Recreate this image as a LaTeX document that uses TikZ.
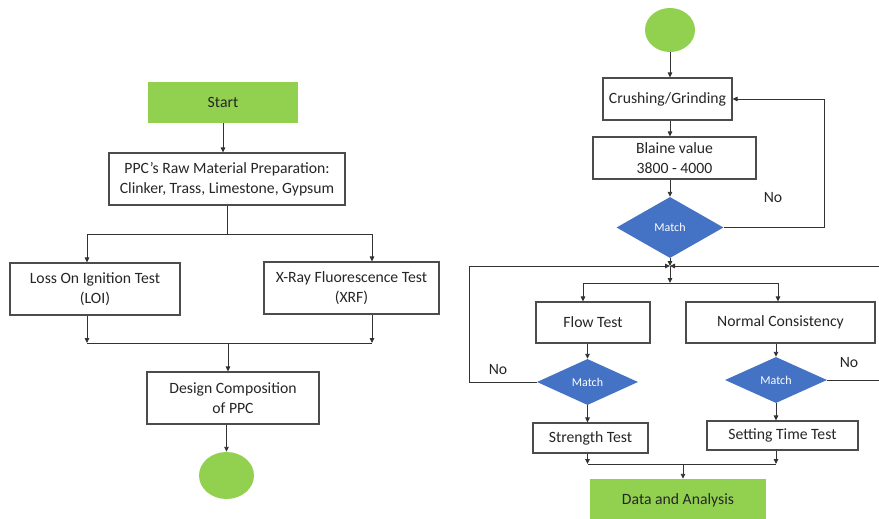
\documentclass[tikz,border=0pt]{standalone}
\usepackage{fontspec}
\setmainfont{Carlito}
\usetikzlibrary{arrows.meta,shapes.geometric}
\definecolor{startgreen}{HTML}{92D050}
\definecolor{decblue}{HTML}{4472C4}
\begin{document}
\begin{tikzpicture}[x=1pt,y=-1pt,
 box/.style={draw=black!70, line width=1.1pt, fill=white, inner sep=0pt, align=center, font=\fontsize{15.7}{20.5}\selectfont, text=black!85},
 gbox/.style={fill=startgreen, inner sep=0pt, align=center, font=\fontsize{15.7}{20.5}\selectfont, text=black!85},
 gcirc/.style={ellipse, fill=startgreen, inner sep=0pt},
 dec/.style={diamond, fill=decblue, inner sep=0pt, text=white, font=\fontsize{12}{13}\selectfont},
 arr/.style={-{Triangle[length=5pt,width=4.5pt]}, line width=0.9pt, draw=black!80},
 ln/.style={line width=0.9pt, draw=black!80},
 lbl/.style={font=\fontsize{15.7}{17}\selectfont, text=black!85}]
\useasboundingbox (0,0) rectangle (879,519);
\fill[white] (0,0) rectangle (879,519);
\clip (0,0) rectangle (879,519);

% ---------- left flowchart ----------
\node[gbox, minimum width=150pt, minimum height=41pt] (start) at (223,102.5) {Start};
\node[box, minimum width=236pt, minimum height=52pt] (ppc) at (227,179) {PPC’s Raw Material Preparation:\\Clinker, Trass, Limestone, Gypsum};
\node[box, minimum width=170pt, minimum height=52pt] (loi) at (95,289) {Loss On Ignition Test\\(LOI)};
\node[box, minimum width=175pt, minimum height=52pt] (xrf) at (351.5,288) {X-Ray Fluorescence Test\\(XRF)};
\node[box, minimum width=172pt, minimum height=52pt] (design) at (233,398) {Design Composition\\of PPC};
\node[gcirc, minimum width=55pt, minimum height=47pt] (endc) at (226.5,475.5) {};

\draw[arr] (start.south) -- (start.south |- ppc.north);
\coordinate (s1) at (227,234);
\coordinate (s1l) at (87,234);
\coordinate (s1r) at (372,234);
\draw[ln] (ppc.south) -- (s1);
\draw[ln] (s1l) -- (s1r);
\draw[arr] (s1l) -- (s1l |- loi.north);
\draw[arr] (s1r) -- (s1r |- xrf.north);
\coordinate (m1l) at (87,343);
\coordinate (m1r) at (372,343);
\coordinate (m1) at (228,343);
\draw[arr] (m1l |- loi.south) -- (m1l);
\draw[arr] (m1r |- xrf.south) -- (m1r);
\draw[ln] (m1l) -- (m1r);
\draw[arr] (m1) -- (m1 |- design.north);
\draw[arr] (endc.north |- design.south) -- (endc.north);

% ---------- right flowchart ----------
\node[gcirc, minimum width=50pt, minimum height=44pt] (topc) at (670,30) {};
\node[box, minimum width=129pt, minimum height=42pt] (crush) at (667.5,99) {Crushing/Grinding};
\node[box, minimum width=163pt, minimum height=42pt] (blaine) at (674.5,158) {Blaine value\\3800 - 4000};
\node[dec, minimum width=107pt, minimum height=61pt] (d1) at (670,227.5) {Match};
\node[lbl] (no1) at (773,198) {No};

\node[box, minimum width=114pt, minimum height=41pt] (flow) at (593,322.5) {Flow Test};
\node[box, minimum width=189pt, minimum height=41pt] (nc) at (780.5,322.5) {Normal Consistency};
\node[dec, minimum width=101pt, minimum height=46pt] (d2) at (587.5,382) {Match};
\node[dec, minimum width=102pt, minimum height=46pt] (d3) at (776,380) {Match};
\node[box, minimum width=115pt, minimum height=30pt] (strength) at (590.5,438) {Strength Test};
\node[box, minimum width=151pt, minimum height=29pt] (setting) at (782.5,435.5) {Setting Time Test};
\node[gbox, minimum width=176pt, minimum height=42pt] (data) at (678,500) {Data and Analysis};
\node[lbl] (no2) at (498,370) {No};
\node[lbl] (no3) at (849,363) {No};

\draw[arr] (topc.south) -- (topc.south |- crush.north);
\draw[arr] (topc.south |- crush.south) -- (topc.south |- blaine.north);
\draw[arr] (topc.south |- blaine.south) -- (topc.south |- d1.north);
\coordinate (r1) at (824,99);
\draw[arr] (d1.east) -| (r1) -- (crush.east);

\coordinate (J) at (670,266);
\coordinate (l1) at (469,266);
\coordinate (r2) at (886,266);
\draw[arr] (d1.south) -- (J);
\draw[arr] (d2.west) -| (l1) -- (J);
\draw[arr] (d3.east) -| (r2) -- (J);
\coordinate (s2) at (670,283);
\coordinate (s2l) at (583,283);
\coordinate (s2r) at (778,283);
\draw[arr] (J) -- (s2);
\draw[ln] (s2l) -- (s2r);
\draw[arr] (s2l) -- (s2l |- flow.north);
\draw[arr] (s2r) -- (s2r |- nc.north);
\draw[arr] (d2.north |- flow.south) -- (d2.north);
\draw[arr] (d3.north |- nc.south) -- (d3.north);
\draw[arr] (d2.south) -- (d2.south |- strength.north);
\draw[arr] (d3.south) -- (d3.south |- setting.north);
\coordinate (m2l) at (587.5,464);
\coordinate (m2r) at (776,464);
\coordinate (m2) at (683,464);
\draw[arr] (m2l |- strength.south) -- (m2l);
\draw[arr] (m2r |- setting.south) -- (m2r);
\draw[ln] (m2l) -- (m2r);
\draw[arr] (m2) -- (m2 |- data.north);
\end{tikzpicture}
\end{document}
